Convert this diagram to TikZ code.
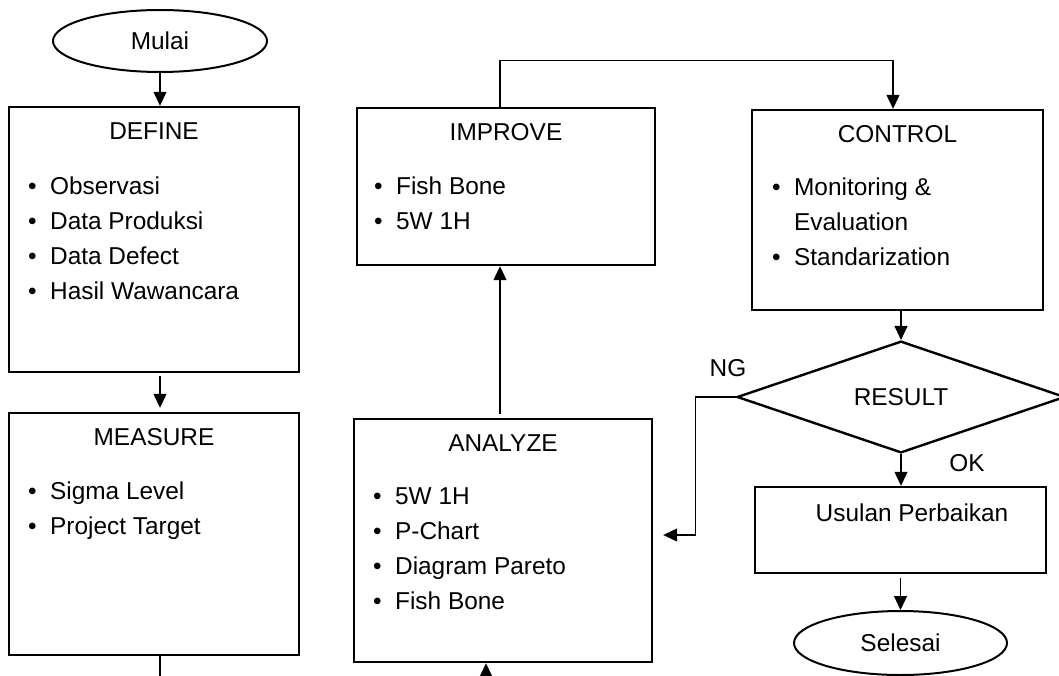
\documentclass[tikz,border=0pt]{standalone}
\usepackage{fontspec}
\setmainfont{Liberation Sans}
\usetikzlibrary{shapes.geometric, arrows.meta}
\tikzstyle{box} = [rectangle, draw=black, line width=1.2pt, inner sep=0pt]
\tikzstyle{ttl} = [rectangle, inner sep=0pt]
\tikzstyle{lst} = [rectangle, inner sep=0pt, anchor=base west]
\tikzstyle{term} = [ellipse, draw=black, line width=1pt, inner sep=0pt]
\tikzstyle{decide} = [diamond, draw=black, line width=1.2pt, inner sep=0pt]
\tikzstyle{arrow} = [-{Triangle[width=6.5pt,length=7pt]}, line width=0.6pt]
\tikzstyle{line} = [line width=0.6pt]
\newcommand{\itemlist}[1]{\begin{tabular}[t]{@{}l@{\hspace{6.7pt}}l@{}}#1\end{tabular}}

\begin{document}
\begin{tikzpicture}[x=0.5pt, y=-0.5pt, every node/.style={font=\fontsize{12.2}{17.5}\selectfont}]
        \useasboundingbox (0,0) rectangle (1059,675);
        \clip (0,0) rectangle (1059,675);

        % left column
        \node[term, minimum width=107pt, minimum height=31pt] (mulai) at (160,41) {Mulai};
        \node[box, minimum width=145pt, minimum height=132.5pt] (define) at (154,239.5) {};
        \node[ttl] (defineT) at ([yshift=-12.5pt]define.north) {DEFINE};
        \node[lst] (defineL) at ([xshift=10pt,yshift=-44.4pt]define.north west)
            {\itemlist{\textbullet & Observasi\\ \textbullet & Data Produksi\\ \textbullet & Data Defect\\ \textbullet & Hasil Wawancara}};

        \node[box, minimum width=145pt, minimum height=121pt] (measure) at (154,534) {};
        \node[ttl] (measureT) at ([yshift=-12.5pt]measure.north) {MEASURE};
        \node[lst] (measureL) at ([xshift=10pt,yshift=-44pt]measure.north west)
            {\itemlist{\textbullet & Sigma Level\\ \textbullet & Project Target}};

        % middle column
        \node[box, minimum width=149pt, minimum height=78.5pt] (improve) at (506,186.5) {};
        \node[ttl] (improveT) at ([yshift=-12.5pt]improve.north) {IMPROVE};
        \node[lst] (improveL) at ([xshift=9pt,yshift=-44pt]improve.north west)
            {\itemlist{\textbullet & Fish Bone\\ \textbullet & 5W 1H}};

        \node[box, minimum width=149pt, minimum height=121.5pt] (analyze) at (503,540.5) {};
        \node[ttl] (analyzeT) at ([yshift=-12.5pt]analyze.north) {ANALYZE};
        \node[lst] (analyzeL) at ([xshift=10pt,yshift=-43.5pt]analyze.north west)
            {\itemlist{\textbullet & 5W 1H\\ \textbullet & P-Chart\\ \textbullet & Diagram Pareto\\ \textbullet & Fish Bone}};

        % right column
        \node[box, minimum width=145.5pt, minimum height=100pt] (control) at (897.5,210) {};
        \node[ttl] (controlT) at ([yshift=-12.5pt]control.north) {CONTROL};
        \node[lst] (controlL) at ([xshift=10.5pt,yshift=-43.5pt]control.north west)
            {\itemlist{\textbullet & Monitoring \&\\ & Evaluation\\ \textbullet & Standarization}};

        \node[decide, minimum width=164pt, minimum height=51pt] (result) at (901,397) {RESULT};
        \node[ttl] (ng) at (728,368) {NG};
        \node[ttl] (ok) at (967,463) {OK};

        \node[box, minimum width=145.5pt, minimum height=43pt] (usulan) at (900.5,530) {};
        \node[ttl] (usulanT) at (912,513) {Usulan Perbaikan};
        \node[term, minimum width=106.5pt, minimum height=32pt] (selesai) at (900.5,643) {Selesai};

        % connectors
        \draw[arrow] (mulai.south) -- (mulai.south |- define.north);
        \draw[arrow, shorten <=1.5pt, shorten >=2pt] ([xshift=3pt]define.south) -- ([xshift=3pt]define.south |- measure.north);
        \draw[arrow] ([xshift=3pt]measure.south) -- ++(0,40) -| ([xshift=-8.5pt]analyze.south);
        \draw[arrow, shorten <=2pt] ([xshift=-1.5pt]analyze.north) -- ([xshift=-1.5pt]analyze.north |- improve.south);
        \draw[arrow] ([xshift=-3pt]improve.north) -- ++(0,-46) -| ([xshift=-2.25pt]control.north);
        \draw[arrow] (result.north |- control.south) -- (result.north);
        \draw[arrow] (result.west) -- ++(-40,0) |- ([xshift=5pt,yshift=2.75pt]analyze.east);
        \draw[arrow] (result.south) -- (result.south |- usulan.north);
        \draw[arrow, shorten <=2pt] (usulan.south) -- (selesai.north);
\end{tikzpicture}
\end{document}
